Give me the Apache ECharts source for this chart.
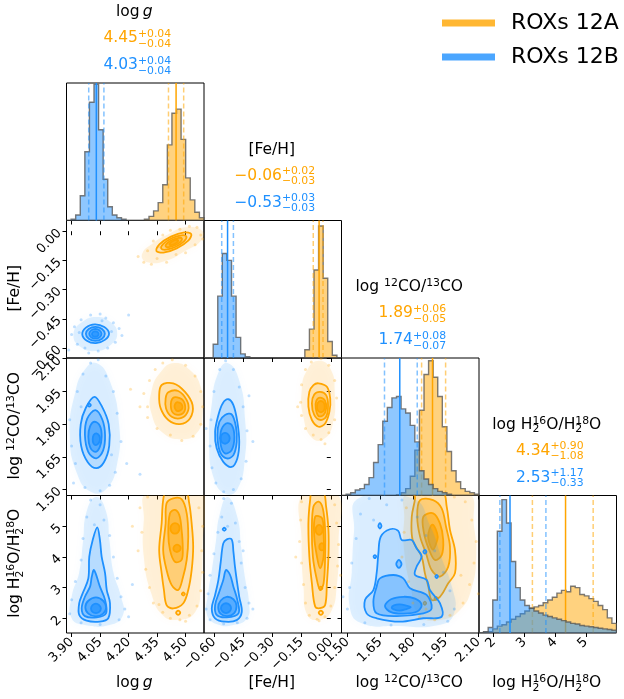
<!DOCTYPE html>
<html>
<head>
<meta charset="utf-8">
<title>ROXs 12 posterior corner plot</title>
<script src="https://cdn.jsdelivr.net/npm/echarts@6/dist/echarts.min.js"></script>
<style>
  html, body { margin: 0; padding: 0; background: #fff; }
  #chart { width: 624px; height: 699px; }
</style>
</head>
<body>
<div id="chart"></div>
<script>
// ---------------- data ----------------
const SERIES_NAMES = ['ROXs 12A', 'ROXs 12B'];

// axis extents: log g, [Fe/H], log 12CO/13CO, log H2 16O/H2 18O
const RANGE_LOGG = [3.873, 4.597];
const RANGE_FEH = [-0.651, 0.055];
const RANGE_CO = [1.473, 2.103];
const RANGE_H2O = [1.52, 6.0];

const TICKS_LOGG = [3.90, 4.05, 4.20, 4.35, 4.50];
const TICKS_FEH = [-0.60, -0.45, -0.30, -0.15, 0.00];
const TICKS_CO = [1.50, 1.65, 1.80, 1.95, 2.10];
const TICKS_H2O = [2, 3, 4, 5];

// medians and 16th/84th percentile offsets (A = ROXs 12A, B = ROXs 12B)
const MED_A = [4.45, -0.06, 1.89, 4.34];
const UP_A = [0.04, 0.02, 0.06, 0.90];
const LO_A = [0.04, 0.03, 0.05, 1.08];
const MED_B = [4.03, -0.53, 1.74, 2.53];
const UP_B = [0.04, 0.03, 0.08, 1.17];
const LO_B = [0.04, 0.03, 0.07, 0.33];

// 1D marginals: 30 bins spanning each axis range, heights relative to the panel
const HIST_LOGG_A = [0,0,0,0,0,0,0,0,0,0,0,0,0,0,0,0,0,0.01,0.03,0.07,0.13,0.26,0.55,0.78,0.81,0.59,0.31,0.15,0.06,0.02];
const HIST_LOGG_B = [0,0.01,0.04,0.18,0.50,0.86,0.99,0.66,0.30,0.10,0.04,0.02,0.01,0,0,0,0,0,0,0,0,0,0,0,0,0,0,0,0,0];
const HIST_FEH_A = [0,0,0,0,0,0,0,0,0,0,0,0,0,0,0,0,0,0,0,0,0,0,0.06,0.21,0.64,0.96,0.58,0.12,0.02,0];
const HIST_FEH_B = [0,0,0.10,0.45,0.76,0.71,0.45,0.15,0.03,0.01,0,0,0,0,0,0,0,0,0,0,0,0,0,0,0,0,0,0,0,0];
const HIST_CO_A = [0,0,0,0,0,0,0,0,0,0,0,0,0.005,0.02,0.05,0.14,0.33,0.62,0.88,0.98,0.86,0.72,0.50,0.32,0.18,0.10,0.05,0.03,0.02,0.01];
const HIST_CO_B = [0,0.01,0.02,0.04,0.05,0.08,0.13,0.24,0.37,0.54,0.64,0.71,0.72,0.63,0.60,0.51,0.39,0.18,0.12,0.08,0.05,0.03,0.02,0.01,0,0,0,0,0,0];
const HIST_H2O_A = [0,0.005,0.01,0.03,0.05,0.06,0.08,0.10,0.12,0.14,0.16,0.18,0.19,0.20,0.22,0.24,0.26,0.29,0.31,0.30,0.34,0.33,0.28,0.27,0.25,0.23,0.20,0.17,0.11,0.07];
const HIST_H2O_B = [0,0.01,0.04,0.24,0.74,0.97,0.80,0.52,0.33,0.24,0.20,0.18,0.16,0.145,0.13,0.12,0.11,0.10,0.09,0.08,0.07,0.065,0.055,0.05,0.045,0.04,0.035,0.03,0.025,0.02];

// 2D contours: one list of closed loops per density level (outermost first)
const CONT_LOGG_FEH_A = [
  [[[4.530,-0.015],[4.514,-0.048],[4.453,-0.088],[4.383,-0.110],[4.346,-0.101],[4.362,-0.068],[4.423,-0.028],[4.493,-0.006]]],
  [[[4.504,-0.027],[4.493,-0.051],[4.449,-0.080],[4.398,-0.095],[4.372,-0.089],[4.383,-0.065],[4.427,-0.036],[4.478,-0.021]]],
  [[[4.481,-0.038],[4.474,-0.053],[4.445,-0.072],[4.412,-0.082],[4.395,-0.078],[4.402,-0.063],[4.431,-0.044],[4.464,-0.034]]],
  [[[4.461,-0.047],[4.457,-0.055],[4.442,-0.066],[4.424,-0.071],[4.415,-0.069],[4.419,-0.061],[4.434,-0.050],[4.452,-0.045]]]
];
const CONT_LOGG_FEH_B = [
  [[[4.097,-0.525],[4.072,-0.492],[4.022,-0.478],[3.975,-0.495],[3.956,-0.530],[3.980,-0.563],[4.028,-0.575],[4.075,-0.558]]],
  [[[4.075,-0.527],[4.060,-0.502],[4.025,-0.491],[3.990,-0.502],[3.975,-0.527],[3.990,-0.552],[4.025,-0.563],[4.060,-0.552]]],
  [[[4.057,-0.527],[4.047,-0.509],[4.025,-0.502],[4.003,-0.509],[3.993,-0.527],[4.003,-0.545],[4.025,-0.552],[4.047,-0.545]]],
  [[[4.042,-0.528],[4.037,-0.518],[4.024,-0.514],[4.012,-0.518],[4.007,-0.528],[4.012,-0.538],[4.024,-0.542],[4.037,-0.538]]]
];
const CONT_LOGG_CO_A = [
  [[[4.374,1.979],[4.435,1.987],[4.497,1.948],[4.537,1.887],[4.523,1.826],[4.470,1.800],[4.409,1.819],[4.369,1.872],[4.361,1.933]]],
  [[[4.409,1.946],[4.461,1.952],[4.506,1.910],[4.514,1.864],[4.479,1.829],[4.427,1.834],[4.397,1.872],[4.395,1.918]]],
  [[[4.435,1.921],[4.479,1.915],[4.498,1.880],[4.485,1.849],[4.444,1.845],[4.423,1.875]]],
  [[[4.453,1.900],[4.479,1.891],[4.481,1.869],[4.456,1.860],[4.442,1.880]]]
];
const CONT_LOGG_CO_B = [
  [[[4.020,1.925],[4.060,1.880],[4.095,1.800],[4.098,1.700],[4.070,1.625],[4.030,1.598],[3.985,1.625],[3.950,1.700],[3.948,1.800],[3.975,1.875]]],
  [[[4.025,1.864],[4.062,1.820],[4.076,1.750],[4.066,1.680],[4.030,1.643],[3.988,1.672],[3.970,1.750],[3.982,1.825]],
   [[4.001,1.887],[3.993,1.894],[3.985,1.887],[3.993,1.880]]],
  [[[4.022,1.811],[4.050,1.790],[4.058,1.742],[4.048,1.695],[4.024,1.673],[3.998,1.693],[3.988,1.742],[3.997,1.790]]],
  [[[4.030,1.758],[4.045,1.748],[4.049,1.731],[4.042,1.712],[4.028,1.704],[4.015,1.712],[4.011,1.731],[4.016,1.750]]]
];
const CONT_LOGG_H2O_A = [
  [[[4.382,5.85],[4.374,5.09],[4.361,4.22],[4.374,3.47],[4.386,2.92],[4.400,2.43],[4.435,2.32],[4.488,2.49],[4.514,2.92],[4.532,3.57],[4.540,4.33],[4.532,5.09],[4.519,5.75],[4.500,6.15],[4.400,6.15]],
   [[4.472,2.18],[4.461,2.25],[4.450,2.18],[4.461,2.11]]],
  [[[4.400,5.75],[4.395,5.09],[4.382,4.22],[4.400,3.57],[4.427,3.08],[4.461,2.92],[4.485,3.30],[4.506,3.90],[4.514,4.66],[4.506,5.42],[4.479,5.88],[4.435,5.91]],
   [[4.496,2.79],[4.488,2.84],[4.480,2.79],[4.488,2.74]]],
  [[[4.418,5.42],[4.409,4.77],[4.418,4.22],[4.444,3.84],[4.479,3.90],[4.485,4.33],[4.479,4.88],[4.467,5.36],[4.444,5.53]]],
  [[[4.444,5.10],[4.462,5.05],[4.468,4.93],[4.460,4.80],[4.444,4.76],[4.428,4.80],[4.420,4.93],[4.428,5.05]],
   [[4.455,4.40],[4.470,4.35],[4.474,4.27],[4.466,4.19],[4.452,4.16],[4.440,4.20],[4.436,4.28],[4.442,4.36]]]
];
const CONT_LOGG_H2O_B = [
  [[[4.035,4.96],[4.049,4.55],[4.058,4.01],[4.076,3.47],[4.085,2.92],[4.102,2.49],[4.093,2.00],[4.049,1.89],[3.979,1.92],[3.940,2.11],[3.940,2.49],[3.958,2.81],[3.988,3.30],[3.993,4.01],[4.011,4.55]]],
  [[[4.018,3.57],[4.049,3.03],[4.076,2.60],[4.081,2.16],[4.032,2.03],[3.970,2.07],[3.953,2.32],[3.970,2.70],[3.997,3.03],[4.006,3.35]]],
  [[[4.028,2.68],[4.066,2.57],[4.082,2.36],[4.066,2.15],[4.028,2.06],[3.988,2.15],[3.972,2.36],[3.988,2.57]]],
  [[[4.028,2.48],[4.045,2.43],[4.054,2.32],[4.045,2.21],[4.028,2.17],[4.010,2.21],[4.002,2.32],[4.010,2.43]]]
];
const CONT_FEH_CO_A = [
  [[[-0.063,1.987],[-0.020,1.971],[-0.003,1.918],[-0.007,1.857],[-0.029,1.803],[-0.063,1.788],[-0.097,1.819],[-0.115,1.880],[-0.110,1.948],[-0.089,1.979]]],
  [[[-0.055,1.948],[-0.024,1.933],[-0.014,1.887],[-0.024,1.834],[-0.055,1.819],[-0.085,1.842],[-0.097,1.895],[-0.085,1.936]]],
  [[[-0.055,1.921],[-0.029,1.906],[-0.024,1.872],[-0.037,1.842],[-0.063,1.837],[-0.077,1.872],[-0.075,1.906]]],
  [[[-0.051,1.906],[-0.036,1.898],[-0.031,1.880],[-0.036,1.862],[-0.051,1.854],[-0.066,1.862],[-0.071,1.880],[-0.066,1.898]]]
];
const CONT_FEH_CO_B = [
  [[[-0.526,1.914],[-0.500,1.887],[-0.480,1.811],[-0.470,1.719],[-0.480,1.643],[-0.509,1.604],[-0.552,1.627],[-0.586,1.689],[-0.594,1.765],[-0.577,1.842],[-0.555,1.895]]],
  [[[-0.543,1.842],[-0.509,1.845],[-0.487,1.788],[-0.483,1.719],[-0.500,1.658],[-0.534,1.643],[-0.569,1.673],[-0.582,1.750],[-0.572,1.811]]],
  [[[-0.538,1.803],[-0.509,1.796],[-0.495,1.742],[-0.509,1.681],[-0.543,1.666],[-0.565,1.704],[-0.565,1.765]]],
  [[[-0.543,1.760],[-0.526,1.752],[-0.519,1.735],[-0.526,1.718],[-0.543,1.710],[-0.560,1.718],[-0.565,1.735],[-0.560,1.752]]]
];
const CONT_FEH_H2O_A = [
  [[[-0.106,5.85],[-0.115,5.09],[-0.110,4.01],[-0.097,3.14],[-0.080,2.38],[-0.055,2.33],[-0.029,2.43],[-0.020,3.14],[-0.012,4.01],[-0.012,4.88],[-0.024,5.64],[-0.040,6.15],[-0.095,6.15]],
   [[-0.040,2.18],[-0.051,2.25],[-0.062,2.18],[-0.051,2.11]]],
  [[[-0.089,5.64],[-0.097,4.88],[-0.092,4.01],[-0.075,3.36],[-0.055,2.92],[-0.037,3.14],[-0.029,4.01],[-0.029,4.88],[-0.041,5.58],[-0.063,5.80]],
   [[-0.043,2.98],[-0.051,3.03],[-0.059,2.98],[-0.051,2.93]]],
  [[[-0.080,5.31],[-0.085,4.66],[-0.071,4.01],[-0.055,3.63],[-0.037,4.01],[-0.037,4.77],[-0.045,5.26]]],
  [[[-0.060,5.04],[-0.047,4.99],[-0.042,4.88],[-0.047,4.77],[-0.060,4.72],[-0.073,4.77],[-0.078,4.88],[-0.073,4.99]],
   [[-0.046,4.45],[-0.036,4.41],[-0.033,4.33],[-0.036,4.25],[-0.046,4.21],[-0.056,4.25],[-0.059,4.33],[-0.056,4.41]]]
];
const CONT_FEH_H2O_B = [
  [[[-0.509,4.57],[-0.500,4.17],[-0.492,3.68],[-0.483,3.25],[-0.470,2.70],[-0.457,2.21],[-0.483,1.94],[-0.543,1.89],[-0.594,2.00],[-0.611,2.32],[-0.594,2.76],[-0.577,3.25],[-0.565,3.84],[-0.552,4.44],[-0.534,4.57]],
   [[-0.539,4.90],[-0.547,4.95],[-0.555,4.90],[-0.547,4.85]]],
  [[[-0.538,3.57],[-0.517,3.41],[-0.500,3.03],[-0.480,2.60],[-0.474,2.16],[-0.534,2.03],[-0.586,2.11],[-0.594,2.43],[-0.572,2.87],[-0.552,3.25]]],
  [[[-0.535,2.70],[-0.500,2.62],[-0.484,2.40],[-0.497,2.16],[-0.530,2.07],[-0.565,2.14],[-0.578,2.36],[-0.565,2.58]]],
  [[[-0.538,2.49],[-0.520,2.44],[-0.512,2.33],[-0.520,2.22],[-0.538,2.17],[-0.556,2.22],[-0.564,2.33],[-0.556,2.44]]]
];
const CONT_CO_H2O_A = [
  [[[1.810,5.91],[1.795,5.31],[1.799,4.55],[1.840,4.01],[1.855,3.47],[1.871,3.03],[1.886,2.60],[1.924,2.70],[1.962,3.14],[1.993,3.47],[1.993,4.22],[1.970,4.88],[1.955,5.64],[1.935,6.15],[1.805,6.15]],
   [[1.913,2.65],[1.906,2.70],[1.899,2.65],[1.906,2.60]],
   [[1.861,2.49],[1.855,2.54],[1.849,2.49],[1.855,2.44]]],
  [[[1.833,5.85],[1.820,5.31],[1.833,4.66],[1.860,4.12],[1.886,3.57],[1.924,3.36],[1.962,3.68],[1.970,4.33],[1.952,4.98],[1.932,5.58],[1.893,5.85]]],
  [[[1.848,5.31],[1.851,4.77],[1.875,4.22],[1.901,3.90],[1.932,4.06],[1.939,4.55],[1.924,5.09],[1.893,5.42]]],
  [[[1.890,5.05],[1.905,4.90],[1.914,4.65],[1.905,4.40],[1.892,4.24],[1.878,4.40],[1.870,4.65],[1.876,4.90]]]
];
const CONT_CO_H2O_B = [
  [[[1.695,4.90],[1.733,4.85],[1.749,4.55],[1.795,4.55],[1.817,4.28],[1.840,4.01],[1.817,3.68],[1.810,3.41],[1.863,3.25],[1.878,2.92],[1.924,2.49],[1.932,2.05],[1.848,2.00],[1.741,1.89],[1.634,2.00],[1.588,2.16],[1.581,2.60],[1.619,2.92],[1.634,3.47],[1.642,4.12],[1.653,4.66]],
   [[1.656,5.01],[1.649,5.10],[1.642,5.01],[1.649,4.92]],
   [[1.632,4.01],[1.626,4.06],[1.620,4.01],[1.626,3.96]],
   [[1.862,4.17],[1.855,4.23],[1.848,4.17],[1.855,4.11]],
   [[1.915,3.36],[1.909,3.41],[1.903,3.36],[1.909,3.31]]],
  [[[1.649,3.30],[1.710,3.41],[1.756,3.30],[1.787,2.98],[1.863,2.76],[1.886,2.32],[1.848,2.16],[1.726,2.07],[1.634,2.16],[1.619,2.54],[1.634,3.03]],
   [[1.748,3.77],[1.736,3.90],[1.724,3.77],[1.736,3.64]]],
  [[[1.757,2.70],[1.810,2.64],[1.840,2.44],[1.820,2.22],[1.757,2.15],[1.700,2.20],[1.672,2.40],[1.700,2.62]]],
  [[[1.740,2.45],[1.770,2.41],[1.790,2.36],[1.770,2.30],[1.740,2.25],[1.712,2.29],[1.703,2.35],[1.713,2.42]]]
];

// outer envelope of the sample cloud in each 2D panel
const HALO_LOGG_FEH_A = [[4.590,0.000],[4.580,-0.050],[4.500,-0.100],[4.400,-0.150],[4.300,-0.160],[4.270,-0.120],[4.330,-0.060],[4.420,-0.010],[4.500,0.020]];
const HALO_LOGG_FEH_B = [[4.140,-0.527],[4.110,-0.470],[4.030,-0.440],[3.950,-0.470],[3.910,-0.527],[3.940,-0.590],[4.030,-0.615],[4.110,-0.580]];
const HALO_LOGG_CO_A = [[4.440,2.080],[4.520,2.050],[4.580,1.970],[4.590,1.850],[4.560,1.760],[4.480,1.730],[4.380,1.760],[4.320,1.850],[4.320,1.950],[4.370,2.040]];
const HALO_LOGG_CO_B = [[4.030,2.080],[4.100,2.000],[4.150,1.800],[4.140,1.620],[4.080,1.500],[4.000,1.490],[3.930,1.570],[3.890,1.750],[3.920,1.950],[3.970,2.050]];
const HALO_LOGG_H2O_A = [[4.300,6.100],[4.590,6.100],[4.590,4.500],[4.580,3.000],[4.550,2.200],[4.460,1.950],[4.380,2.100],[4.320,2.800],[4.280,4.000],[4.280,5.200]];
const HALO_LOGG_H2O_B = [[4.030,5.950],[4.080,5.500],[4.100,4.500],[4.120,3.500],[4.160,2.700],[4.170,2.100],[4.100,1.780],[3.970,1.780],[3.900,2.000],[3.900,2.700],[3.940,3.500],[3.960,4.500],[3.980,5.500]];
const HALO_FEH_CO_A = [[-0.060,2.090],[0.000,2.050],[0.020,1.950],[0.010,1.800],[-0.040,1.730],[-0.100,1.740],[-0.140,1.830],[-0.150,1.950],[-0.120,2.050]];
const HALO_FEH_CO_B = [[-0.530,2.080],[-0.470,2.000],[-0.440,1.820],[-0.440,1.650],[-0.480,1.500],[-0.540,1.480],[-0.600,1.550],[-0.625,1.720],[-0.610,1.900],[-0.580,2.030]];
const HALO_FEH_H2O_A = [[-0.140,6.100],[0.030,6.100],[0.040,4.500],[0.030,3.000],[0.000,2.200],[-0.060,1.950],[-0.120,2.100],[-0.140,3.000],[-0.150,4.500]];
const HALO_FEH_H2O_B = [[-0.530,5.950],[-0.480,5.300],[-0.460,4.300],[-0.440,3.300],[-0.420,2.500],[-0.430,2.000],[-0.500,1.780],[-0.580,1.800],[-0.635,2.100],[-0.630,2.800],[-0.610,3.600],[-0.590,4.500],[-0.570,5.400]];
const HALO_CO_H2O_A = [[1.780,6.100],[2.050,6.100],[2.080,5.000],[2.090,4.000],[2.070,3.000],[2.020,2.300],[1.930,1.950],[1.830,2.100],[1.790,3.000],[1.760,4.200],[1.760,5.200]];
const HALO_CO_H2O_B = [[1.550,5.900],[1.800,5.900],[1.880,5.000],[1.930,4.000],[1.980,3.000],[1.990,2.200],[1.930,1.800],[1.720,1.750],[1.560,1.850],[1.510,2.400],[1.520,3.500],[1.530,4.800]];

// individual samples outside the outermost contour
const PTS_LOGG_FEH_A = [[4.250,-0.130],[4.280,-0.160],[4.300,-0.100],[4.320,-0.170],[4.350,-0.140],[4.330,-0.050],[4.380,-0.020],[4.400,-0.160],[4.450,-0.120],[4.470,0.010],[4.520,0.025],[4.560,0.020],[4.580,-0.020],[4.550,-0.070],[4.500,-0.110],[4.420,0.005],[4.360,-0.080],[4.590,-0.040]];
const PTS_LOGG_FEH_B = [[3.900,-0.530],[3.915,-0.490],[3.930,-0.580],[3.950,-0.455],[3.970,-0.600],[4.000,-0.430],[4.050,-0.425],[4.080,-0.445],[4.120,-0.470],[4.150,-0.500],[4.165,-0.535],[4.130,-0.570],[4.090,-0.600],[4.040,-0.615],[3.990,-0.625],[4.200,-0.430],[3.885,-0.610],[4.110,-0.515],[3.940,-0.520],[4.060,-0.460]];
const PTS_LOGG_CO_A = [[4.280,1.940],[4.300,1.880],[4.310,2.000],[4.340,2.050],[4.380,2.080],[4.430,2.095],[4.500,2.070],[4.550,2.020],[4.580,1.950],[4.590,1.880],[4.580,1.800],[4.540,1.745],[4.480,1.725],[4.420,1.750],[4.350,1.780],[4.300,1.830],[4.260,1.880],[4.210,1.960]];
const PTS_LOGG_CO_B = [[3.900,1.700],[3.890,1.820],[3.920,1.620],[3.930,1.950],[3.960,2.030],[4.000,2.080],[4.040,2.095],[4.080,2.020],[4.120,1.950],[4.140,1.850],[4.160,1.720],[4.130,1.580],[4.100,1.520],[4.050,1.495],[3.970,1.510],[4.190,1.620],[4.260,1.570],[3.950,1.880],[4.110,1.660],[3.910,1.530]];
const PTS_LOGG_H2O_A = [[4.260,5.600],[4.300,5.950],[4.270,4.800],[4.250,4.200],[4.290,3.600],[4.310,3.000],[4.330,2.500],[4.380,2.200],[4.420,2.000],[4.470,1.950],[4.520,2.100],[4.560,2.400],[4.580,2.900],[4.590,3.500],[4.585,4.200],[4.590,5.000],[4.570,5.600],[4.220,5.000],[4.360,2.450],[4.500,1.900]];
const PTS_LOGG_H2O_B = [[4.000,5.850],[4.050,5.700],[3.980,5.300],[4.070,5.200],[4.100,4.700],[3.960,4.600],[4.120,4.000],[3.950,3.900],[4.140,3.300],[3.920,3.200],[4.160,2.700],[3.900,2.600],[4.180,2.300],[3.890,2.150],[4.150,1.950],[3.950,1.850],[4.050,1.800],[4.200,2.050],[4.220,3.100],[4.020,5.050]];
const PTS_FEH_CO_A = [[-0.155,1.900],[-0.150,1.980],[-0.130,2.050],[-0.100,2.085],[-0.050,2.100],[-0.010,2.070],[0.020,2.000],[0.030,1.920],[0.020,1.820],[-0.010,1.760],[-0.050,1.730],[-0.090,1.750],[-0.130,1.780],[-0.150,1.840],[-0.170,1.880],[-0.030,1.710]];
const PTS_FEH_CO_B = [[-0.620,1.700],[-0.615,1.820],[-0.600,1.950],[-0.570,2.050],[-0.540,2.090],[-0.500,2.050],[-0.470,1.970],[-0.450,1.880],[-0.430,1.770],[-0.435,1.630],[-0.460,1.550],[-0.500,1.500],[-0.550,1.490],[-0.590,1.530],[-0.610,1.600],[-0.400,1.720],[-0.420,1.930],[-0.640,1.780]];
const PTS_FEH_H2O_A = [[-0.150,5.800],[-0.155,5.200],[-0.160,4.500],[-0.150,3.800],[-0.140,3.100],[-0.130,2.500],[-0.110,2.100],[-0.070,1.970],[-0.030,2.050],[0.000,2.400],[0.020,3.000],[0.035,3.700],[0.040,4.400],[0.030,5.100],[0.020,5.700],[-0.180,4.000],[-0.060,1.920],[0.050,3.400]];
const PTS_FEH_H2O_B = [[-0.550,5.900],[-0.510,5.750],[-0.560,5.300],[-0.490,5.100],[-0.580,4.800],[-0.470,4.500],[-0.600,4.100],[-0.460,3.800],[-0.620,3.400],[-0.440,3.000],[-0.630,2.800],[-0.420,2.500],[-0.640,2.300],[-0.430,2.000],[-0.620,1.950],[-0.550,1.820],[-0.480,1.850],[-0.400,2.300],[-0.530,5.000],[-0.450,4.200]];
const PTS_CO_H2O_A = [[1.770,5.600],[1.760,4.800],[1.750,4.000],[1.780,3.200],[1.800,2.500],[1.830,2.050],[1.900,1.950],[1.970,2.100],[2.030,2.500],[2.060,3.100],[2.080,3.800],[2.090,4.500],[2.070,5.200],[2.040,5.800],[1.990,5.950],[2.100,2.800],[1.860,2.300],[2.020,3.400]];
const PTS_CO_H2O_B = [[1.500,2.300],[1.510,3.000],[1.520,3.800],[1.540,4.600],[1.560,5.400],[1.600,5.900],[1.680,5.700],[1.750,5.850],[1.820,5.300],[1.860,4.700],[1.900,4.200],[1.940,3.500],[1.970,2.900],[1.990,2.300],[1.960,1.900],[1.850,1.800],[1.700,1.780],[1.580,1.850],[1.480,2.700],[1.620,5.200]];

// ---------------- layout & style ----------------
const FONT = '"DejaVu Sans", sans-serif';
const ORANGE = '#ffa500';
const BLUE = '#1e90ff';
const COL_X = [66.5, 204, 341.5, 479];
const ROW_Y = [83, 220.5, 358, 495.5];
const SIZE = 137.5;
const LEVEL_ALPHA = [0.18, 0.32, 0.45, 0.65];

function rgba(hex, a) {
  const n = parseInt(hex.slice(1), 16);
  return 'rgba(' + ((n >> 16) & 255) + ',' + ((n >> 8) & 255) + ',' + (n & 255) + ',' + a + ')';
}

const PARAMS = [
  { range: RANGE_LOGG, ticks: TICKS_LOGG, dec: 2, hist: [HIST_LOGG_A, HIST_LOGG_B] },
  { range: RANGE_FEH, ticks: TICKS_FEH, dec: 2, hist: [HIST_FEH_A, HIST_FEH_B] },
  { range: RANGE_CO, ticks: TICKS_CO, dec: 2, hist: [HIST_CO_A, HIST_CO_B] },
  { range: RANGE_H2O, ticks: TICKS_H2O, dec: 0, hist: [HIST_H2O_A, HIST_H2O_B] }
];

const PAIRS = {
  '1,0': [[CONT_LOGG_FEH_A, HALO_LOGG_FEH_A, PTS_LOGG_FEH_A], [CONT_LOGG_FEH_B, HALO_LOGG_FEH_B, PTS_LOGG_FEH_B]],
  '2,0': [[CONT_LOGG_CO_A, HALO_LOGG_CO_A, PTS_LOGG_CO_A], [CONT_LOGG_CO_B, HALO_LOGG_CO_B, PTS_LOGG_CO_B]],
  '3,0': [[CONT_LOGG_H2O_A, HALO_LOGG_H2O_A, PTS_LOGG_H2O_A], [CONT_LOGG_H2O_B, HALO_LOGG_H2O_B, PTS_LOGG_H2O_B]],
  '2,1': [[CONT_FEH_CO_A, HALO_FEH_CO_A, PTS_FEH_CO_A], [CONT_FEH_CO_B, HALO_FEH_CO_B, PTS_FEH_CO_B]],
  '3,1': [[CONT_FEH_H2O_A, HALO_FEH_H2O_A, PTS_FEH_H2O_A], [CONT_FEH_H2O_B, HALO_FEH_H2O_B, PTS_FEH_H2O_B]],
  '3,2': [[CONT_CO_H2O_A, HALO_CO_H2O_A, PTS_CO_H2O_A], [CONT_CO_H2O_B, HALO_CO_H2O_B, PTS_CO_H2O_B]]
};

function tickFormatter(dec) {
  return function (v) {
    const s = dec ? Number(v).toFixed(dec) : String(Math.round(v));
    return s.replace('-', '\u2212');
  };
}

function axisFor(p, showLabels, gi) {
  return {
    gridIndex: gi, type: 'value', min: p.range[0], max: p.range[1],
    axisLine: { show: false },
    splitLine: { show: false },
    axisTick: { show: true, inside: false, length: 4, customValues: p.ticks, lineStyle: { color: '#000', width: 1 } },
    axisLabel: { show: showLabels, customValues: p.ticks, rotate: 45, margin: 7, fontSize: 13, fontFamily: FONT, color: '#000', formatter: tickFormatter(p.dec) }
  };
}

// step-filled marginal histogram drawn as one outline polygon
function histSeries(gi, counts, range, color, name) {
  const w = (range[1] - range[0]) / counts.length;
  return {
    type: 'custom', name: name, xAxisIndex: gi, yAxisIndex: gi, silent: true, clip: true,
    data: counts.map(function (v, i) { return [range[0] + (i + 0.5) * w, v]; }),
    renderItem: function (params, api) {
      if (params.dataIndex !== 0) return null;
      const pts = [api.coord([range[0], 0])];
      counts.forEach(function (v, i) {
        pts.push(api.coord([range[0] + i * w, v]));
        pts.push(api.coord([range[0] + (i + 1) * w, v]));
      });
      pts.push(api.coord([range[1], 0]));
      return { type: 'polygon', shape: { points: pts }, style: { fill: rgba(color, 0.5), stroke: 'rgba(80,80,80,0.75)', lineWidth: 1.4 } };
    }
  };
}

// median (solid) and 16/84 percentiles (dashed)
function quantileSeries(gi, med, up, lo, color) {
  return {
    type: 'custom', xAxisIndex: gi, yAxisIndex: gi, silent: true,
    data: [[med - lo, 0], [med, 1], [med + up, 2]],
    renderItem: function (params, api) {
      const x = api.value(0);
      const a = api.coord([x, 0]);
      const b = api.coord([x, 1]);
      const solid = params.dataIndex === 1;
      return {
        type: 'line', shape: { x1: a[0], y1: a[1], x2: b[0], y2: b[1] },
        style: { stroke: solid ? color : rgba(color, 0.55), lineWidth: 1.5, lineDash: solid ? null : [5, 3] }
      };
    }
  };
}

function cloudSeries(gi, cloud, color) {
  const levels = cloud[0], halo = cloud[1], pts = cloud[2];
  const loops = [];
  levels.forEach(function (ls, li) { ls.forEach(function (loop) { loops.push({ li: li, loop: loop }); }); });
  return [
    {
      type: 'custom', xAxisIndex: gi, yAxisIndex: gi, silent: true, clip: true,
      data: [halo[0]],
      renderItem: function (params, api) {
        return {
          type: 'polygon', shape: { points: halo.map(function (p) { return api.coord(p); }), smooth: 0.5 },
          style: { fill: rgba(color, 0.13), shadowBlur: 10, shadowColor: rgba(color, 0.3) }
        };
      }
    },
    {
      type: 'scatter', xAxisIndex: gi, yAxisIndex: gi, silent: true, clip: true,
      symbol: 'circle', symbolSize: 3, data: pts,
      itemStyle: { color: rgba(color, 0.35) }
    },
    {
      type: 'custom', xAxisIndex: gi, yAxisIndex: gi, silent: true, clip: true,
      data: loops.map(function (o) { return o.loop[0]; }),
      renderItem: function (params, api) {
        const o = loops[params.dataIndex];
        return {
          type: 'polygon', shape: { points: o.loop.map(function (p) { return api.coord(p); }), smooth: 0.35 },
          style: { fill: rgba(color, LEVEL_ALPHA[o.li]), stroke: color, lineWidth: 1.8 }
        };
      }
    }
  ];
}

const grid = [], xAxis = [], yAxis = [], series = [];
for (let r = 0; r < 4; r++) {
  for (let c = 0; c <= r; c++) {
    const gi = grid.length;
    grid.push({ left: COL_X[c], top: ROW_Y[r], width: SIZE, height: SIZE, show: true, borderColor: '#000', borderWidth: 1, backgroundColor: 'rgba(0,0,0,0)' });
    xAxis.push(axisFor(PARAMS[c], r === 3, gi));
    if (r === c) {
      yAxis.push({ gridIndex: gi, type: 'value', min: 0, max: 1, show: false });
      const p = PARAMS[c];
      series.push(histSeries(gi, p.hist[0], p.range, ORANGE, SERIES_NAMES[0]));
      series.push(quantileSeries(gi, MED_A[c], UP_A[c], LO_A[c], ORANGE));
      series.push(histSeries(gi, p.hist[1], p.range, BLUE, SERIES_NAMES[1]));
      series.push(quantileSeries(gi, MED_B[c], UP_B[c], LO_B[c], BLUE));
    } else {
      yAxis.push(axisFor(PARAMS[r], c === 0, gi));
      const pair = PAIRS[r + ',' + c];
      cloudSeries(gi, pair[0], ORANGE).forEach(function (s) { series.push(s); });
      cloudSeries(gi, pair[1], BLUE).forEach(function (s) { series.push(s); });
    }
  }
}

// ---------------- text with super/subscripts ----------------
const measureCtx = document.createElement('canvas').getContext('2d');
function textWidth(s, size, italic) {
  measureCtx.font = (italic ? 'italic ' : '') + size + 'px "DejaVu Sans"';
  return measureCtx.measureText(s).width;
}
function textEl(s, x, y, size, color, italic) {
  return {
    type: 'text', x: x, y: y, silent: true,
    style: { text: s, fontSize: size, fontFamily: FONT, fontStyle: italic ? 'italic' : 'normal', fill: color,
             textAlign: 'left', textVerticalAlign: 'middle', align: 'left', verticalAlign: 'middle' }
  };
}
function mathRow(pieces, size, color, supDy, subDy) {
  const small = size * 0.7;
  const kids = [];
  let x = 0;
  pieces.forEach(function (p) {
    if (p.t !== undefined) {
      kids.push(textEl(p.t, x, 0, size, color, p.it));
      x += textWidth(p.t, size, p.it);
    } else {
      let w = 0;
      if (p.sup) { kids.push(textEl(p.sup, x, supDy * size, small, color)); w = Math.max(w, textWidth(p.sup, small)); }
      if (p.sub) { kids.push(textEl(p.sub, x, subDy * size, small, color)); w = Math.max(w, textWidth(p.sub, small)); }
      x += w;
    }
  });
  kids.forEach(function (k) { k.x -= x / 2; });
  return kids;
}
function mathLabel(pieces, cx, cy, size, color, rotation, supDy, subDy) {
  return { type: 'group', x: cx, y: cy, rotation: rotation || 0, children: mathRow(pieces, size, color, supDy, subDy) };
}

const NAMES = [
  [{ t: 'log' }, { t: '\u2009' }, { t: 'g', it: true }],
  [{ t: '[Fe/H]' }],
  [{ t: 'log ' }, { sup: '12' }, { t: 'CO/' }, { sup: '13' }, { t: 'CO' }],
  [{ t: 'log H' }, { sup: '16', sub: '2' }, { t: 'O/H' }, { sup: '18', sub: '2' }, { t: 'O' }]
];

function signed(v) { return v.toFixed(2).replace('-', '\u2212'); }

const NAME_SIZE = 15.5;
const graphics = [];
for (let i = 0; i < 4; i++) {
  const cx = COL_X[i] + SIZE / 2;
  const top = ROW_Y[i];
  graphics.push(mathLabel(NAMES[i], cx - 1, top - 71, NAME_SIZE, '#000', 0, -0.22, 0.31));
  graphics.push(mathLabel([{ t: signed(MED_A[i]) }, { sup: '+' + UP_A[i].toFixed(2), sub: '\u2212' + LO_A[i].toFixed(2) }],
    cx + 2, top - 45, NAME_SIZE, ORANGE, 0, -0.27, 0.37));
  graphics.push(mathLabel([{ t: signed(MED_B[i]) }, { sup: '+' + UP_B[i].toFixed(2), sub: '\u2212' + LO_B[i].toFixed(2) }],
    cx + 2, top - 18, NAME_SIZE, BLUE, 0, -0.27, 0.37));
  // bottom axis titles
  graphics.push(mathLabel(NAMES[i], cx - 1, 683, NAME_SIZE, '#000', 0, -0.22, 0.31));
  // left axis titles (rows 1-3)
  if (i > 0) {
    graphics.push(mathLabel(NAMES[i], 15, ROW_Y[i] + SIZE / 2 - 1, NAME_SIZE, '#000', Math.PI / 2, -0.22, 0.31));
  }
}

const chart = echarts.init(document.getElementById('chart'), null, { renderer: 'canvas' });
chart.setOption({
  backgroundColor: '#fff',
  animation: false,
  legend: {
    orient: 'vertical', left: 442, top: 11, padding: 0, itemGap: 10,
    itemWidth: 53, itemHeight: 7, icon: 'rect', selectedMode: false,
    textStyle: { fontSize: 22, fontFamily: FONT, color: '#000', lineHeight: 24, padding: [0, 0, 0, 11] },
    data: [
      { name: SERIES_NAMES[0], itemStyle: { color: rgba(ORANGE, 0.8) } },
      { name: SERIES_NAMES[1], itemStyle: { color: rgba(BLUE, 0.8) } }
    ]
  },
  grid: grid,
  xAxis: xAxis,
  yAxis: yAxis,
  series: series,
  graphic: { elements: graphics }
});
</script>
</body>
</html>
